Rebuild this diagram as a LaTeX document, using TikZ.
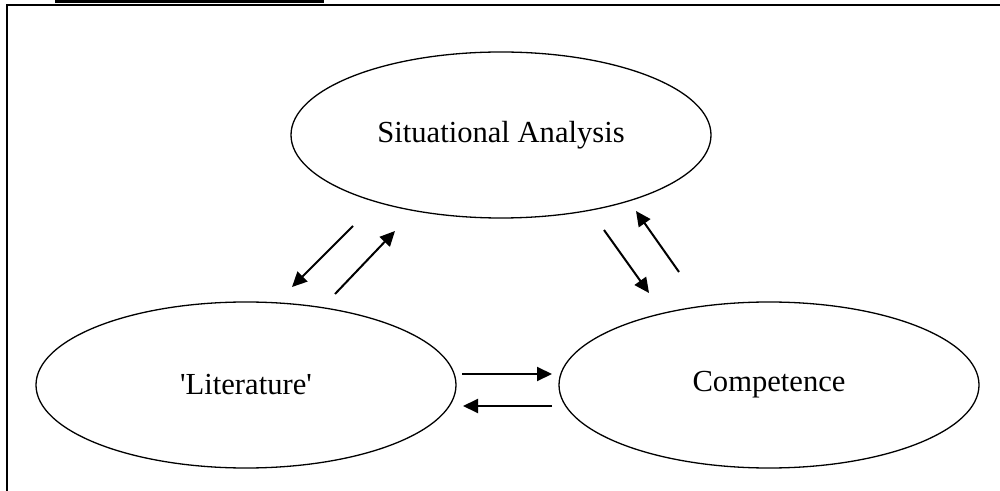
\documentclass[tikz,border=0pt]{standalone}
\usepackage{fontspec}
\setmainfont{Liberation Serif}
\usetikzlibrary{arrows.meta, shapes.geometric}

\begin{document}
\begin{tikzpicture}[
  x=0.5pt, y=-0.5pt,
  stagebubble/.style={ellipse, draw, line width=0.65pt, inner sep=0pt,
    minimum width=210pt, minimum height=83pt,
    font=\fontsize{15.3}{18}\selectfont},
  flowarrow/.style={-{Triangle[length=7.5pt, width=7pt]}, line width=1pt},
  frameline/.style={line width=1pt},
  headbar/.style={line width=1.2pt}
]
  %% --- page area (units: image pixels) ---
  \useasboundingbox (0,0) rectangle (1000,491);

  %% --- frame and heading rule ---
  \draw[headbar] (55,1.5) -- (324,1.5);
  \draw[frameline] (7,491) -- (7,5) -- (1000,5);

  %% --- the three stages ---
  \node[stagebubble] (situation) at (501,135) {Situational Analysis};
  \node[stagebubble] (literature) at (246,385) {\textquotesingle Literature\textquotesingle};
  \node[stagebubble] (competence) at (769,385) {Competence};

  %% --- arrow ends, two per pair of stages ---
  \coordinate (slA) at (353,226);  \coordinate (slB) at (292,287);
  \coordinate (lsA) at (335,294);  \coordinate (lsB) at (395,231);
  \coordinate (scA) at (604,230);  \coordinate (scB) at (649,293);
  \coordinate (csA) at (679,272);  \coordinate (csB) at (636,211);
  \coordinate (lcA) at (462,374);  \coordinate (lcB) at (552,374);
  \coordinate (clA) at (552,406);  \coordinate (clB) at (463,406);

  \foreach \pair in {sl, ls, sc, cs, lc, cl} {
    \draw[flowarrow] (\pair A) -- (\pair B);
  }
\end{tikzpicture}
\end{document}
